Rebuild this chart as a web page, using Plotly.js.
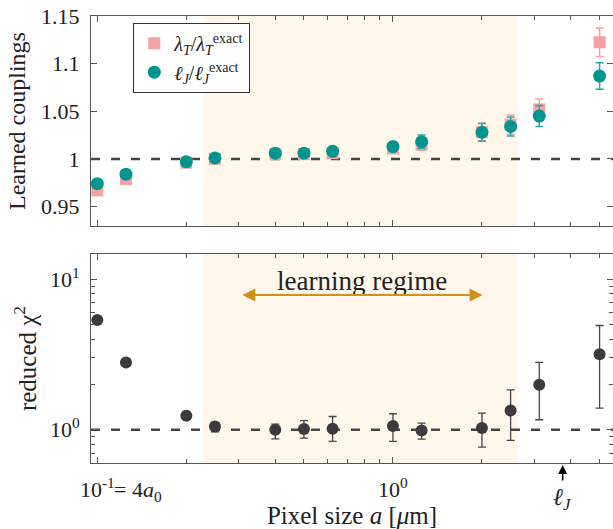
<!DOCTYPE html>
<html><head><meta charset="utf-8">
<script src="https://cdn.plot.ly/plotly-3.0.1.min.js"></script>
<style>html,body{margin:0;padding:0;background:#fff}</style>
</head><body><div id="chart" style="width:613px;height:529px"></div>
<script>
// ---- data ----
const pixelSize   = [0.1, 0.125, 0.2, 0.25, 0.4, 0.5, 0.625, 1, 1.25, 2, 2.5, 3.125, 5];
const lambdaRatio = [0.967, 0.979, 0.996, 1.000, 1.005, 1.005, 1.006, 1.011, 1.015, 1.028, 1.036, 1.052, 1.1225];
const lambdaErr   = [0.003, 0.003, 0.003, 0.003, 0.003, 0.003, 0.004, 0.005, 0.006, 0.009, 0.010, 0.011, 0.015];
const ellRatio    = [0.974, 0.984, 0.997, 1.001, 1.006, 1.006, 1.008, 1.013, 1.018, 1.028, 1.034, 1.045, 1.087];
const ellErr      = [0.003, 0.003, 0.003, 0.003, 0.003, 0.003, 0.004, 0.005, 0.007, 0.0095, 0.010, 0.011, 0.014];
const chi2        = [5.37, 2.80, 1.24, 1.05, 1.00, 1.01, 1.015, 1.06, 0.99, 1.026, 1.34, 1.99, 3.18];
const chi2Upper   = [5.37, 2.80, 1.24, 1.12, 1.09, 1.15, 1.225, 1.277, 1.108, 1.29, 1.84, 2.80, 4.93];
const chi2Lower   = [5.37, 2.80, 1.24, 0.97, 0.87, 0.88, 0.837, 0.837, 0.867, 0.767, 0.849, 1.165, 1.39];
const xTickVals   = [0.1, 1];
const xTickText   = ['10<sup>-1</sup>', '10<sup>0</sup>'];
const xMinorVals  = [0.2, 0.3, 0.4, 0.5, 0.6, 0.7, 0.8, 0.9, 2, 3, 4, 5];
const yTopVals    = [0.95, 1, 1.05, 1.1, 1.15];
const yTopText    = ['0.95', '1', '1.05', '1.1', '1.15'];
const yBotVals    = [1, 10];
const yBotText    = ['10<sup>0</sup>', '10<sup>1</sup>'];
const yBotMinor   = [0.6, 0.7, 0.8, 0.9, 2, 3, 4, 5, 6, 7, 8, 9];
const regime      = [0.228, 2.64];
const regimeArrow = [0.306, 2.01];
const ellJ        = 3.75;

const chi2Plus  = chi2Upper.map((u, i) => u - chi2[i]);
const chi2Minus = chi2.map((v, i) => v - chi2Lower[i]);

const FONT = 'Liberation Serif';
const frame = '#555';

const traces = [
  {x: pixelSize, y: lambdaRatio, xaxis: 'x', yaxis: 'y', mode: 'markers', type: 'scatter',
   name: '<i>λ</i><sub><i>T</i></sub>/<i>λ</i><sub><i>T</i></sub><sup>exact</sup>',
   marker: {symbol: 'square', size: 12, color: '#F6A2A2'},
   error_y: {type: 'data', array: lambdaErr, visible: true, color: '#F6A2A2', thickness: 1.5, width: 4}},
  {x: pixelSize, y: ellRatio, xaxis: 'x', yaxis: 'y', mode: 'markers', type: 'scatter',
   name: '<i>ℓ</i><sub><i>J</i></sub>/<i>ℓ</i><sub><i>J</i></sub><sup>exact</sup>',
   marker: {symbol: 'circle', size: 13, color: '#00968F'},
   error_y: {type: 'data', array: ellErr, visible: true, color: '#2FA7A1', thickness: 1.5, width: 4}},
  {x: pixelSize, y: chi2, xaxis: 'x2', yaxis: 'y2', mode: 'markers', type: 'scatter', showlegend: false,
   marker: {symbol: 'circle', size: 12, color: '#3E393C'},
   error_y: {type: 'data', symmetric: false, array: chi2Plus, arrayminus: chi2Minus, visible: true,
             color: '#4A4447', thickness: 1.3, width: 4}}
];

const xCommon = {
  type: 'log', range: [Math.log10(0.0952), Math.log10(5.55)],
  showline: true, linecolor: frame, linewidth: 1, mirror: 'ticks',
  ticks: 'inside', ticklen: 6, tickcolor: frame, tickvals: xTickVals,
  minor: {tickmode: 'array', tickvals: xMinorVals, ticks: 'inside', ticklen: 4, tickcolor: frame},
  showgrid: false, zeroline: false
};

const layout = {
  width: 613, height: 529,
  margin: {l: 91, r: 0, t: 16, b: 66},
  paper_bgcolor: '#fff', plot_bgcolor: 'rgba(0,0,0,0)',
  font: {family: FONT, size: 22, color: '#222'},
  showlegend: true,
  legend: {x: 0.081, y: 0.985, xanchor: 'left', yanchor: 'top', bordercolor: '#333', borderwidth: 1,
           bgcolor: '#fff', font: {size: 20, family: FONT}, itemwidth: 30, tracegroupgap: 0},
  xaxis: Object.assign({}, xCommon, {domain: [0, 1], anchor: 'y', showticklabels: false}),
  xaxis2: Object.assign({}, xCommon, {domain: [0, 1], anchor: 'y2', ticktext: xTickText, tickmode: 'array',
           ticklabelstandoff: 7, tickfont: {size: 22, family: FONT},
           title: {text: 'Pixel size <i>a</i> [<i>μ</i>m]', font: {size: 25, family: FONT}, standoff: 7}}),
  yaxis: {domain: [0.530, 1], anchor: 'x', range: [0.9295, 1.15], tickmode: 'array', tickvals: yTopVals, ticktext: yTopText,
          showline: true, linecolor: frame, mirror: 'ticks', ticks: 'inside', ticklen: 6, tickcolor: frame,
          showgrid: false, zeroline: false, ticklabelstandoff: 6, tickfont: {size: 22, family: FONT},
          title: {text: 'Learned couplings', font: {size: 24, family: FONT}, standoff: 8}},
  yaxis2: {type: 'log', domain: [0, 0.4676], anchor: 'x2', range: [-0.221, 1.168], tickmode: 'array',
           tickvals: yBotVals, ticktext: yBotText,
           minor: {tickmode: 'array', tickvals: yBotMinor, ticks: 'inside', ticklen: 4, tickcolor: frame},
           showline: true, linecolor: frame, mirror: 'ticks', ticks: 'inside', ticklen: 6, tickcolor: frame,
           showgrid: false, zeroline: false, ticklabelstandoff: 6, tickfont: {size: 22, family: FONT},
           title: {text: 'reduced χ<sup>2</sup>', font: {size: 25, family: FONT}, standoff: 6}},
  shapes: [
    {type: 'rect', xref: 'x', yref: 'y domain', x0: regime[0], x1: regime[1], y0: 0, y1: 1,
     fillcolor: '#FEF7EA', line: {width: 0}, layer: 'below'},
    {type: 'rect', xref: 'x2', yref: 'y2 domain', x0: regime[0], x1: regime[1], y0: 0, y1: 1,
     fillcolor: '#FEF7EA', line: {width: 0}, layer: 'below'},
    {type: 'line', xref: 'x domain', yref: 'y', x0: 0, x1: 1, y0: 1, y1: 1,
     line: {color: '#444', width: 2.5, dash: '9px,11px'}, layer: 'below'},
    {type: 'line', xref: 'x2 domain', yref: 'y2', x0: 0, x1: 1, y0: 1, y1: 1,
     line: {color: '#444', width: 2.5, dash: '9px,11px'}, layer: 'below'}
  ],
  annotations: [
    {xref: 'x2', yref: 'y2', x: (Math.log10(regimeArrow[0]) + Math.log10(regimeArrow[1])) / 2, y: 0.99,
     text: 'learning regime', showarrow: false, font: {size: 27, color: '#222', family: FONT}},
    {xref: 'x2', yref: 'y2', axref: 'x2', ayref: 'y2', x: Math.log10(regimeArrow[1]), y: 0.896,
     ax: Math.log10(regimeArrow[0]), ay: 0.896, text: '', showarrow: true, arrowside: 'end+start',
     arrowhead: 2, startarrowhead: 2, arrowsize: 1.3, startarrowsize: 1.3, arrowwidth: 2, arrowcolor: '#D0901C'},
    {xref: 'x2', yref: 'paper', x: Math.log10(ellJ), y: 0, yshift: -2, ax: 0, ay: 17, text: '',
     showarrow: true, arrowhead: 2, arrowsize: 1.2, arrowwidth: 1.5, arrowcolor: '#000'},
    {xref: 'x2', yref: 'paper', x: Math.log10(ellJ), y: 0, yshift: -36, yanchor: 'middle',
     text: '<i>ℓ</i><sub><i>J</i></sub>', showarrow: false, font: {size: 24, color: '#222', family: FONT}},
    {xref: 'x2', yref: 'paper', x: -1, y: 0, xshift: 15, yshift: -28, xanchor: 'left', yanchor: 'middle',
     text: '= 4<i>a</i><sub>0</sub>', showarrow: false, font: {size: 22, color: '#222', family: FONT}}
  ]
};

Plotly.newPlot('chart', traces, layout, {displayModeBar: false, staticPlot: true});
</script>
</body></html>
